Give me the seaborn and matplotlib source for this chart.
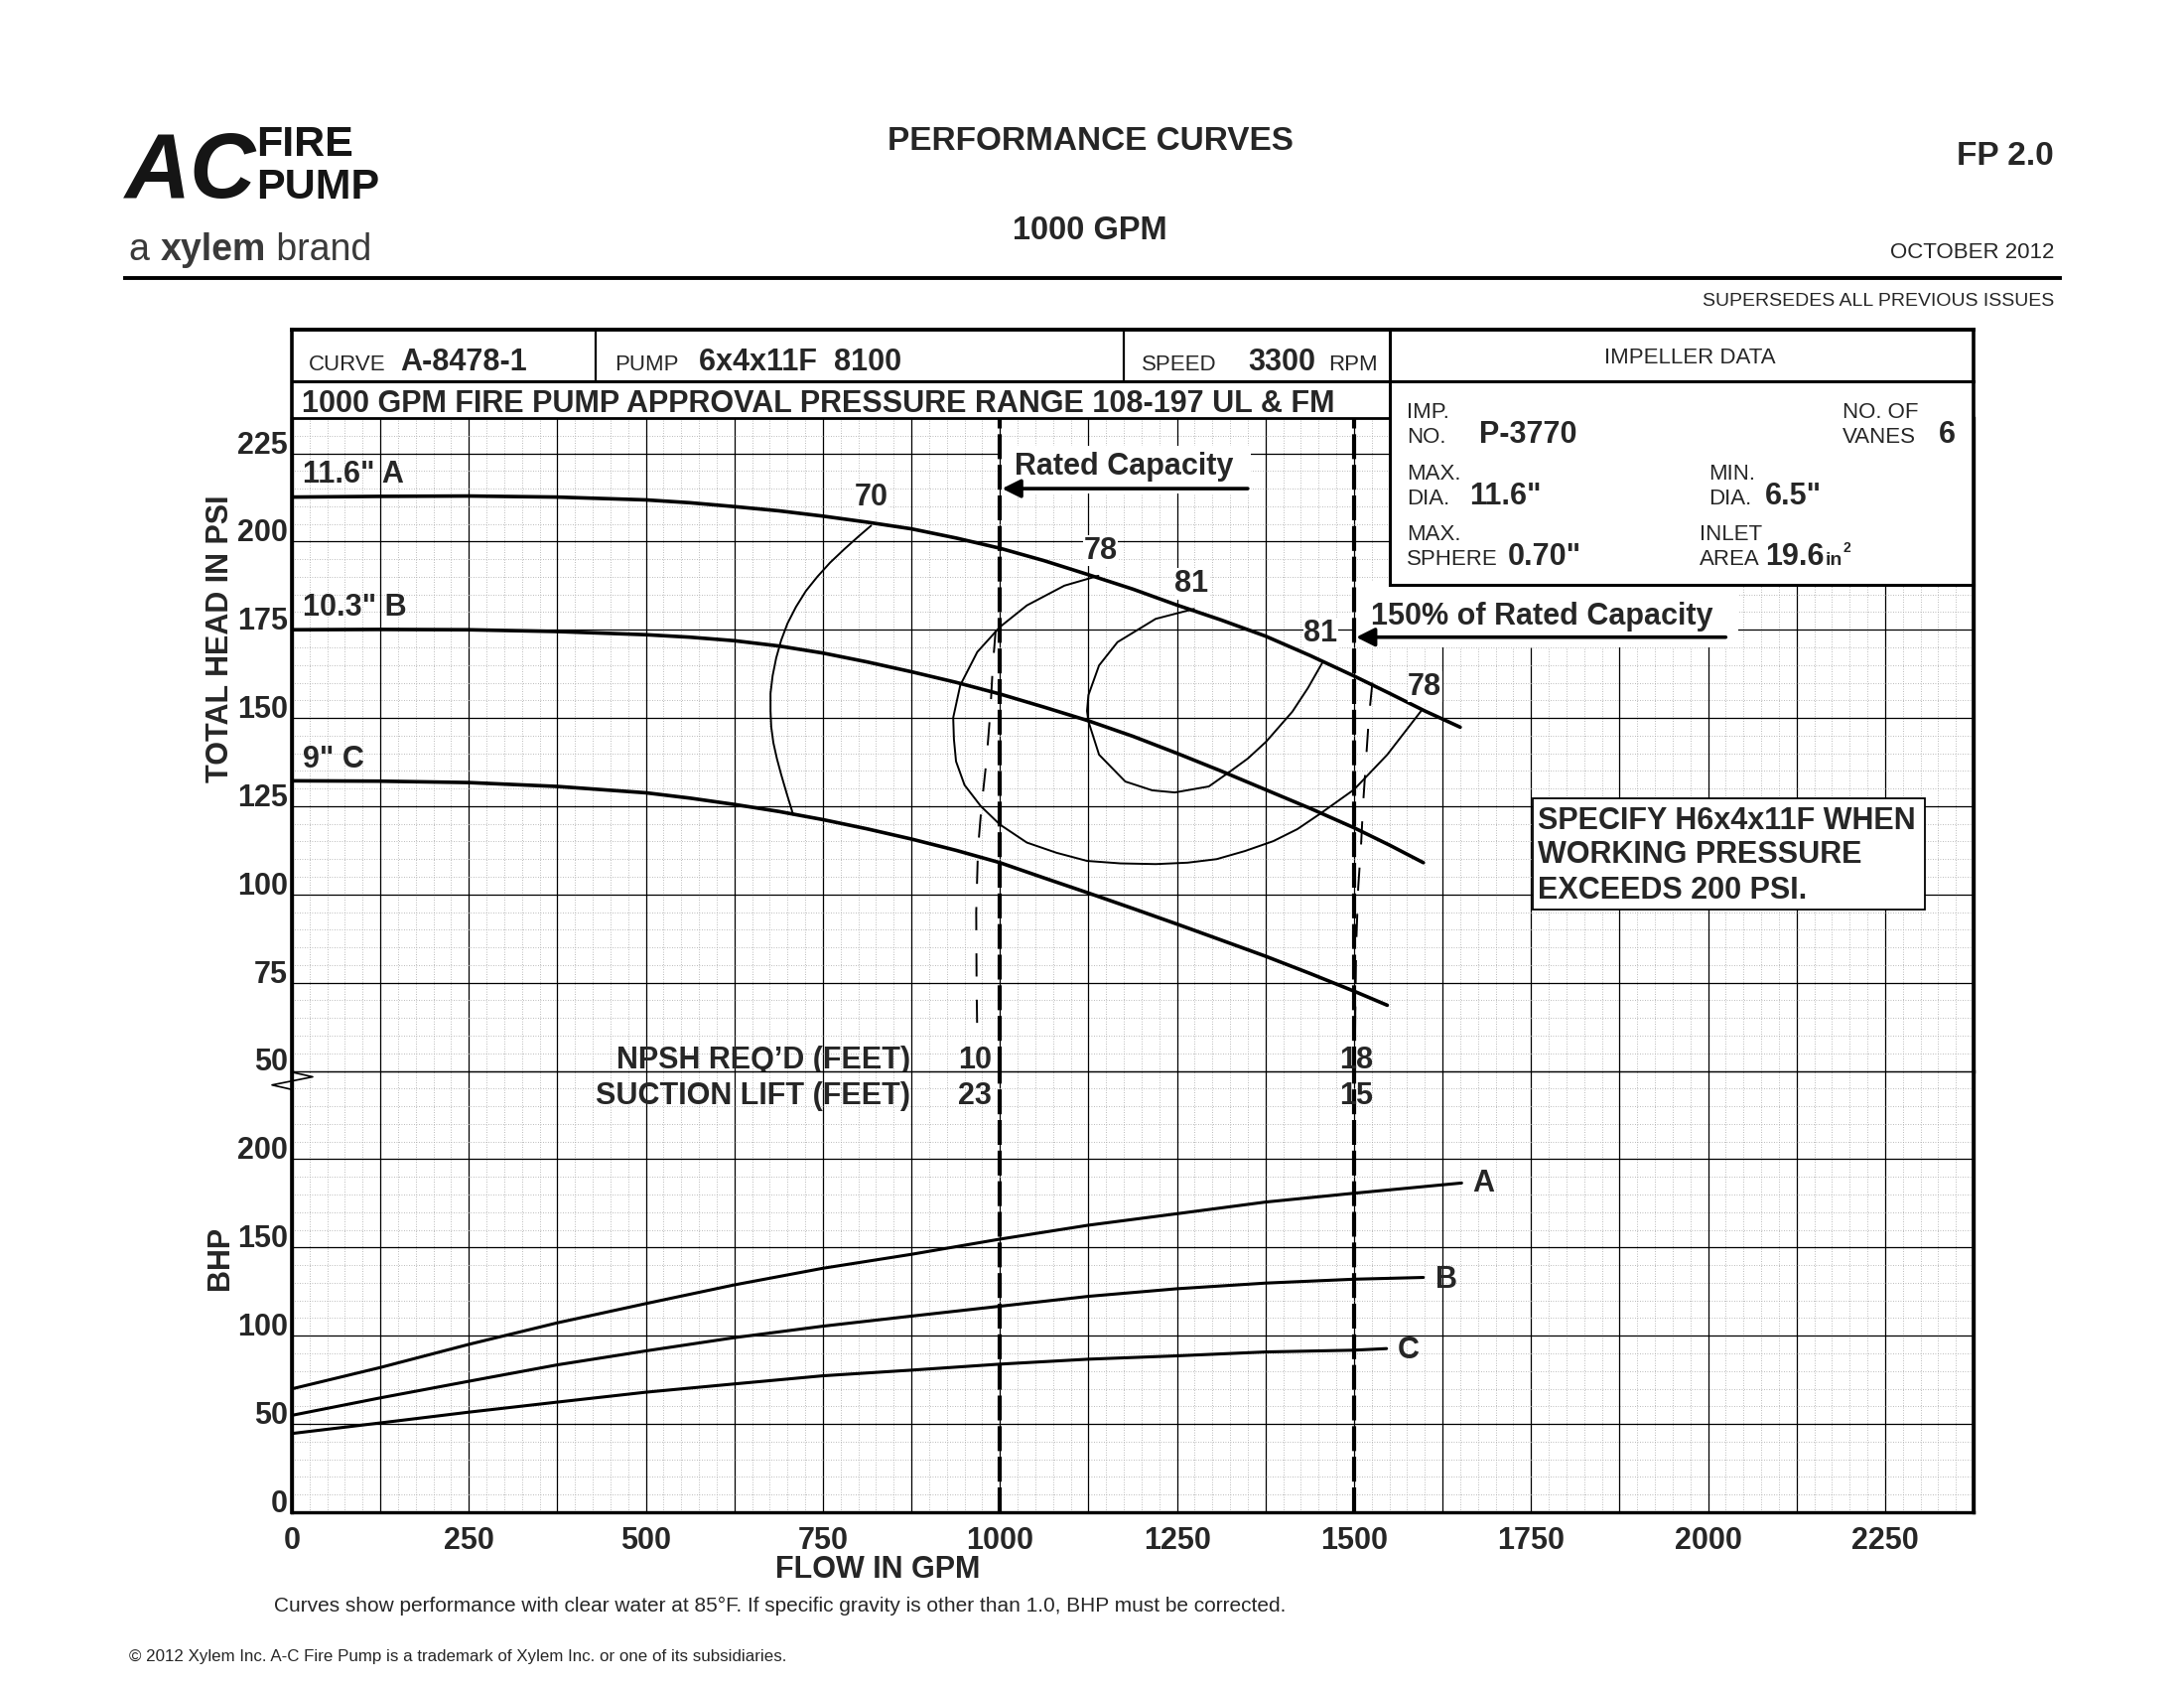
import matplotlib
matplotlib.use("Agg")
import matplotlib.pyplot as plt
import seaborn as sns
from matplotlib import font_manager
from matplotlib.patches import Rectangle
from matplotlib.lines import Line2D
from matplotlib.transforms import Affine2D
from matplotlib.ticker import MultipleLocator

W, H = 2200, 1700

# --- head curves: total head (psi) vs flow (gpm) ---
flow_a = [0, 125, 250, 375, 500, 562, 625, 688, 750, 812, 875, 938, 1000, 1062, 1125, 1188, 1250,
          1312, 1375, 1438, 1500, 1550, 1600, 1650]
head_a = [212.6, 212.8, 212.9, 212.6, 211.8, 211.0, 209.9, 208.7, 207.2, 205.5, 203.6, 201.0, 198.1,
          194.6, 190.6, 186.5, 182.0, 177.8, 173.2, 167.7, 161.9, 157.0, 152.0, 147.4]
flow_b = [0, 125, 250, 375, 500, 562, 625, 688, 750, 812, 875, 938, 1000, 1062, 1125, 1188, 1250,
          1312, 1375, 1438, 1500, 1550, 1598]
head_b = [175.0, 175.1, 175.0, 174.5, 173.6, 172.9, 171.9, 170.4, 168.4, 165.9, 163.1, 160.1, 156.8,
          153.1, 149.2, 144.8, 140.0, 135.0, 129.7, 124.4, 118.9, 114.0, 109.0]
flow_c = [0, 125, 250, 375, 500, 562, 625, 688, 750, 812, 875, 938, 1000, 1062, 1125, 1188, 1250,
          1312, 1375, 1438, 1500, 1547]
head_c = [132.2, 132.1, 131.7, 130.6, 128.8, 127.3, 125.5, 123.5, 121.2, 118.6, 115.7, 112.5, 109.0,
          104.7, 100.4, 96.0, 91.6, 87.1, 82.5, 77.6, 72.6, 68.6]
curve_names = ['11.6" A', '10.3" B', '9" C']
curve_name_head = [219.0, 181.3, 138.2]

# --- efficiency contours (%) ---
eff70_flow = [818, 800, 780, 760, 742, 726, 712, 700, 691, 684, 679, 676, 676, 677, 680, 685,
              691, 699, 708]
eff70_head = [204.5, 201.4, 197.8, 194.0, 190.0, 186.0, 181.5, 176.8, 172.0, 167.0, 162.0, 157.0,
              152.0, 147.5, 143.0, 138.5, 134.0, 128.5, 122.6]
eff78_flow = [1139, 1091, 1038, 1000, 968, 944, 934, 935, 938, 950, 973, 1000, 1038, 1080,
              1123, 1170, 1220, 1265, 1306, 1346, 1386, 1420, 1451, 1500, 1547, 1596]
eff78_head = [190.3, 187.5, 181.9, 175.8, 168.7, 159.3, 150.1, 144.0, 137.7, 131.0, 125.0, 119.8,
              114.7, 111.8, 109.5, 108.8, 108.6, 109.0, 110.0, 112.3, 115.1, 118.5, 122.7, 129.7,
              139.6, 152.3]
eff81_flow = [1274, 1220, 1166, 1140, 1125, 1123, 1125, 1140, 1177, 1215, 1247, 1295, 1322, 1350,
              1376, 1413, 1435, 1456]
eff81_head = [180.9, 178.1, 171.5, 164.9, 156.5, 152.0, 149.0, 139.6, 132.0, 129.5, 128.9, 130.6,
              134.4, 138.5, 143.3, 151.8, 158.5, 165.9]
eff_labels = ['70', '78', '81', '81', '78']
eff_label_flow = [818, 1142, 1271, 1453, 1600]
eff_label_head = [212.6, 197.4, 188.0, 173.9, 158.8]

# --- NPSH required lines ---
npsh1_flow = [994, 990, 986.5, 981, 974, 969, 966.5, 967, 968]
npsh1_head = [175, 165, 152, 138, 125, 113, 95, 75, 60]
npsh2_flow = [1526, 1521, 1517, 1513, 1510, 1506, 1503, 1501]
npsh2_head = [160, 150, 138, 126, 114, 102, 85, 52]
rated_flow = 1000
overload_flow = 1500
npsh_values = ['10', '18']
lift_values = ['23', '15']

# --- brake horsepower curves ---
bhp_flow_a = [0, 125, 250, 375, 500, 625, 750, 875, 1000, 1125, 1250, 1375, 1500, 1652]
bhp_a = [69.9, 82.0, 95.1, 107.3, 118.2, 128.8, 138.2, 146.1, 154.7, 162.6, 169.1, 175.7, 180.7, 186.5]
bhp_flow_b = [0, 125, 250, 375, 500, 625, 750, 875, 1000, 1125, 1250, 1375, 1500, 1598]
bhp_b = [54.9, 64.8, 74.2, 83.5, 91.4, 98.9, 105.4, 111.1, 116.7, 122.3, 126.6, 129.8, 132.0, 133.0]
bhp_flow_c = [0, 125, 250, 375, 500, 625, 750, 875, 1000, 1125, 1250, 1375, 1500, 1546]
bhp_c = [44.6, 50.6, 56.7, 62.4, 68.0, 72.7, 77.3, 80.5, 83.9, 86.7, 88.6, 90.8, 91.8, 92.7]
bhp_names = ['A', 'B', 'C']
bhp_name_flow = [1668, 1615, 1562]
bhp_name_val = [186.0, 131.7, 91.8]

head_ticks = list(range(50, 226, 25))
bhp_ticks = [0, 50, 100, 150, 200, 250]
flow_ticks = list(range(0, 2376, 125))

sns.set_theme(style="white")
installed = {f.name for f in font_manager.fontManager.ttflist}
if 'Liberation Sans Narrow' in installed:
    COND = dict(family=['Liberation Sans Narrow', 'DejaVu Sans'], weight='bold')
    FS = 1.18
else:
    COND = dict(family=['Liberation Sans', 'DejaVu Sans'], weight='bold')
    FS = 1.0
REG = dict(family=['Liberation Sans', 'DejaVu Sans'])
plt.rcParams['font.family'] = ['Liberation Sans', 'DejaVu Sans']
BIG = 22 * FS

fig = plt.figure(figsize=(W / 100, H / 100), dpi=100)
fig.patch.set_facecolor('white')
pix = Affine2D().scale(1 / W, -1 / H).translate(0, 1) + fig.transFigure

X0, X1 = 294, 1988
Y_TOP, Y_50, Y_0 = 421, 1078.5, 1523
ax_p = fig.add_axes([X0 / W, 1 - Y_50 / H, (X1 - X0) / W, (Y_50 - Y_TOP) / H])
ax_b = fig.add_axes([X0 / W, 1 - Y_0 / H, (X1 - X0) / W, (Y_0 - Y_50) / H])


def style_grid(ax, ylim, yminor):
    ax.set_xlim(0, 2375)
    ax.set_ylim(*ylim)
    ax.xaxis.set_minor_locator(MultipleLocator(25))
    ax.yaxis.set_minor_locator(MultipleLocator(yminor))
    ax.grid(which='major', color='black', lw=0.9)
    ax.grid(which='minor', color='#a5a5a5', lw=0.6, ls=(0, (1, 2)))
    ax.tick_params(which='both', length=0)
    ax.set_axisbelow(True)
    for s in ax.spines.values():
        s.set_color('black')
        s.set_linewidth(2.4)


style_grid(ax_p, (50, 235), 5)
style_grid(ax_b, (0, 250), 10)
ax_p.spines['bottom'].set_visible(False)
ax_b.spines['top'].set_linewidth(0.9)
ax_p.spines['top'].set_linewidth(2.0)

ax_p.set_xticks(flow_ticks)
ax_p.set_xticklabels([])
ax_b.set_xticks(flow_ticks)
ax_b.set_xticklabels([str(v) if v % 250 == 0 else '' for v in flow_ticks], fontsize=BIG, **COND)
ax_b.tick_params(axis='x', pad=10)
ax_p.set_yticks(head_ticks)
ax_p.set_yticklabels([str(v) for v in head_ticks], fontsize=BIG, va='baseline', **COND)
ax_b.set_yticks(bhp_ticks)
ax_b.set_yticklabels([str(v) if v < 250 else '' for v in bhp_ticks], fontsize=BIG, va='baseline', **COND)
for ax in (ax_p, ax_b):
    ax.tick_params(axis='y', pad=3)
    for t in ax.get_yticklabels():
        t.set_va('baseline')

# head curves
for fl, hd in [(flow_a, head_a), (flow_b, head_b), (flow_c, head_c)]:
    sns.lineplot(x=fl, y=hd, ax=ax_p, color='black', lw=2.6, sort=False, estimator=None, zorder=5)
for name, hv in zip(curve_names, curve_name_head):
    ax_p.text(15, hv, name, fontsize=BIG, ha='left', va='center', zorder=6, **COND)

# efficiency contours
for fl, hd in [(eff70_flow, eff70_head), (eff78_flow, eff78_head), (eff81_flow, eff81_head)]:
    sns.lineplot(x=fl, y=hd, ax=ax_p, color='black', lw=1.4, sort=False, estimator=None, zorder=4)
for lab, fx, hy in zip(eff_labels, eff_label_flow, eff_label_head):
    ax_p.text(fx, hy, lab, fontsize=BIG, ha='center', va='center', zorder=6,
              bbox=dict(fc='white', ec='none', pad=0.5), **COND)

# NPSH required lines
for fl, hd in [(npsh1_flow, npsh1_head), (npsh2_flow, npsh2_head)]:
    sns.lineplot(x=fl, y=hd, ax=ax_p, color='black', lw=1.4, sort=False, estimator=None,
                 linestyle=(0, (12, 12)), zorder=4)

# rated / 150% lines
for ax in (ax_p, ax_b):
    for fv in (rated_flow, overload_flow):
        ax.axvline(fv, color='black', lw=3.0, ls=(0, (6, 1.4)), zorder=6)

# rated capacity callouts
ax_p.add_patch(Rectangle((1003, 213.5), 352, 13.5, fc='white', ec='none', zorder=3))
ax_p.text(1175, 221.3, 'Rated Capacity', fontsize=BIG, ha='center', va='center', zorder=7, **COND)
ax_p.annotate('', xy=(1003, 215.0), xytext=(1350, 215.0), zorder=7,
              arrowprops=dict(arrowstyle='-|>', lw=2.6, color='black', mutation_scale=28,
                              shrinkA=0, shrinkB=0))
ax_p.add_patch(Rectangle((1503, 170), 540, 18.5, fc='white', ec='none', zorder=3))
ax_p.text(1765, 178.8, '150% of Rated Capacity', fontsize=BIG, ha='center', va='center', zorder=7, **COND)
ax_p.annotate('', xy=(1503, 172.9), xytext=(2025, 172.9), zorder=7,
              arrowprops=dict(arrowstyle='-|>', lw=2.6, color='black', mutation_scale=28,
                              shrinkA=0, shrinkB=0))

# specify box
ax_p.add_patch(Rectangle((1753, 95.8), 553, 31.5, fc='white', ec='black', lw=1.3, zorder=4))
for line, hv in zip(['SPECIFY H6x4x11F WHEN', 'WORKING PRESSURE', 'EXCEEDS 200 PSI.'],
                    [120.9, 111.1, 101.2]):
    ax_p.text(1760, hv, line, fontsize=BIG, ha='left', va='center', zorder=5, **COND)

# NPSH / suction lift table
ax_p.text(873, 50.6, 'NPSH REQ\u2019D (FEET)', fontsize=BIG, ha='right', va='baseline', zorder=6, **COND)
ax_b.text(873, 244, 'SUCTION LIFT (FEET)', fontsize=BIG, ha='right', va='top', zorder=6, **COND)
for fv, n, s in zip([988, 1503], npsh_values, lift_values):
    ha = 'right' if fv < 1200 else 'center'
    ax_p.text(fv, 50.6, n, fontsize=BIG, ha=ha, va='baseline', zorder=6, **COND)
    ax_b.text(fv, 244, s, fontsize=BIG, ha=ha, va='top', zorder=6, **COND)

# BHP curves
for fl, bv in [(bhp_flow_a, bhp_a), (bhp_flow_b, bhp_b), (bhp_flow_c, bhp_c)]:
    sns.lineplot(x=fl, y=bv, ax=ax_b, color='black', lw=2.2, sort=False, estimator=None, zorder=5)
for name, fx, bv in zip(bhp_names, bhp_name_flow, bhp_name_val):
    ax_b.text(fx, bv, name, fontsize=BIG, ha='left', va='center', zorder=6, **COND)


# ---- sheet furniture in pixel coordinates ----
def pline(xs, ys, lw, z=2):
    fig.add_artist(Line2D(xs, ys, transform=pix, color='black', lw=lw,
                          solid_capstyle='projecting', zorder=z))


def ptext(x, y, s, **kw):
    return fig.text(x, y, s, transform=pix, **kw)


fig.add_artist(Rectangle((1400, 384), 588, 205, transform=pix, fc='white', ec='none', zorder=1))
pline([X0, X1], [332, 332], 2.8)
pline([X0, X1], [384, 384], 2.2)
pline([1400, X1], [589, 589], 2.2)
pline([X0, X0], [332, Y_0], 2.6)
pline([X1, X1], [332, Y_0], 2.6)
pline([600, 600], [332, 384], 1.6)
pline([1132, 1132], [332, 384], 1.6)
pline([1400, 1400], [332, 589], 2.2)
pline([126, 2075], [280, 280], 2.8)
# axis break mark
pline([295, 315, 274, 295], [1080, 1084.5, 1092.7, 1097.5], 1.2, z=3)

small = dict(fontsize=16, va='baseline', **REG)
big = dict(fontsize=BIG, va='baseline', **COND)
ptext(311, 373, 'CURVE', **small)
ptext(403, 373, 'A-8478-1', **big)
ptext(619, 373, 'PUMP', **small)
ptext(704, 373, '6x4x11F  8100', **big)
ptext(1150, 373, 'SPEED', **small)
ptext(1257, 373, '3300', **big)
ptext(1338, 373, 'RPM', **small)
ptext(1702, 360, 'IMPELLER DATA', fontsize=16, ha='center', va='center', **REG)
ptext(304, 415, '1000 GPM FIRE PUMP APPROVAL PRESSURE RANGE 108-197 UL & FM', **big)

# impeller data block
ptext(1417, 421, 'IMP.', **small)
ptext(1417, 446, 'NO.', **small)
ptext(1490, 446, 'P-3770', **big)
ptext(1856, 421, 'NO. OF', **small)
ptext(1856, 446, 'VANES', **small)
ptext(1953, 446, '6', **big)
ptext(1417, 483, 'MAX.', **small)
ptext(1417, 508, 'DIA.', **small)
ptext(1480, 508, '11.6"', **big)
ptext(1721, 483, 'MIN.', **small)
ptext(1721, 508, 'DIA.', **small)
ptext(1778, 508, '6.5"', **big)
ptext(1417, 544, 'MAX.', **small)
ptext(1417, 569, 'SPHERE', **small)
ptext(1519, 569, '0.70"', **big)
ptext(1712, 544, 'INLET', **small)
ptext(1712, 569, 'AREA', **small)
t = ptext(1778, 569, '19.6', **big)
r = fig.canvas.get_renderer()
xe = 1778 + t.get_window_extent(r).width + 1
t2 = ptext(xe, 569, 'in', fontsize=14, va='baseline', **COND)
ptext(xe + t2.get_window_extent(r).width + 1, 556, '2', fontsize=10, va='baseline', **COND)

# titles
ptext(1098, 151, 'PERFORMANCE CURVES', fontsize=24, ha='center', va='baseline', weight='bold',
      family=REG['family'])
ptext(1098, 241, '1000 GPM', fontsize=23.5, ha='center', va='baseline', weight='bold', family=REG['family'])
ptext(2069, 166, 'FP 2.0', fontsize=24, ha='right', va='baseline', weight='bold', family=REG['family'])
ptext(2069, 260, 'OCTOBER 2012', fontsize=16, ha='right', va='baseline', **REG)
ptext(2069, 308, 'SUPERSEDES ALL PREVIOUS ISSUES', fontsize=14, ha='right', va='baseline', **REG)

# logo
ptext(126, 199, 'AC', fontsize=66, va='baseline', style='italic', color='#151515', **COND)
ptext(258, 157, 'FIRE', fontsize=31, va='baseline', color='#151515', **COND)
ptext(258, 200, 'PUMP', fontsize=31, va='baseline', color='#151515', **COND)
xx = 130
for s, w in [('a ', 'normal'), ('xylem', 'bold'), (' brand', 'normal')]:
    tt = ptext(xx, 262, s, fontsize=27, va='baseline', weight=w, color='#3a3a3a', **REG)
    xx += tt.get_window_extent(r).width

# axis titles
ptext(222, 643, 'TOTAL HEAD IN PSI', fontsize=BIG, rotation=90, ha='center', va='center', **COND)
ptext(222, 1267, 'BHP', fontsize=BIG, rotation=90, ha='center', va='center', **COND)
ptext(884, 1581, 'FLOW IN GPM', fontsize=BIG, ha='center', va='center', **COND)

# footnotes
ptext(276, 1623, 'Curves show performance with clear water at 85\u00b0F. If specific gravity is other '
      'than 1.0, BHP must be corrected.', fontsize=15, va='baseline', **REG)
ptext(130, 1673, '\u00a9 2012 Xylem Inc. A-C Fire Pump is a trademark of Xylem Inc. or one of its '
      'subsidiaries.', fontsize=12.2, va='baseline', **REG)

fig.savefig('out.png', dpi=100)
